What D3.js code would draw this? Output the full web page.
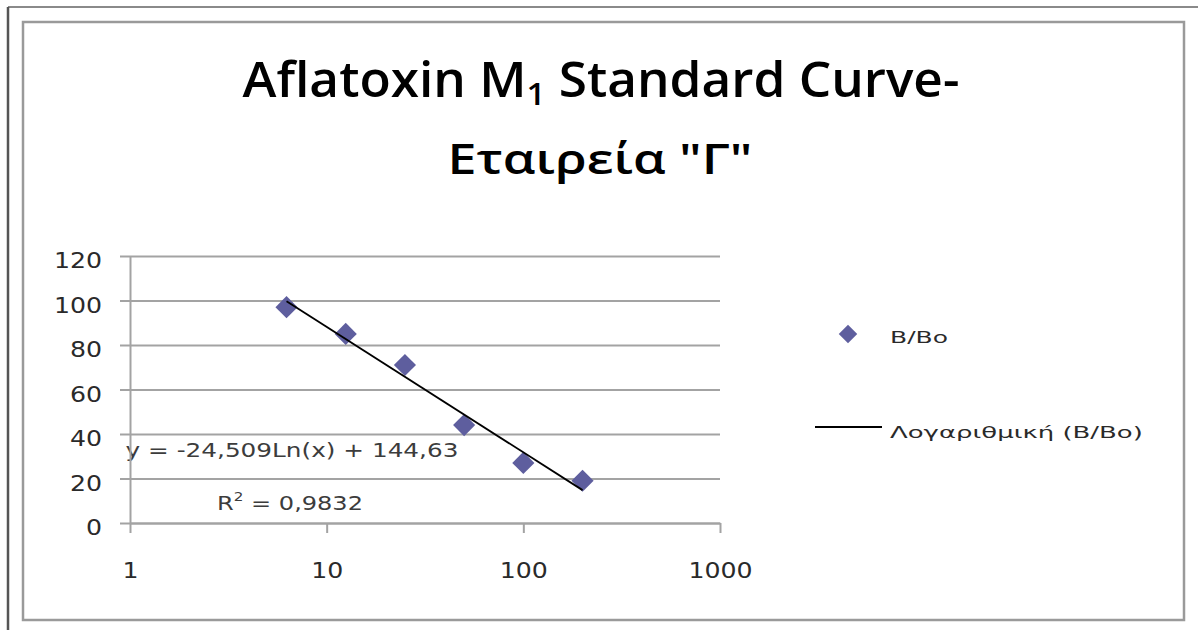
<!DOCTYPE html>
<html>
<head>
<meta charset="utf-8">
<script src="https://cdn.jsdelivr.net/npm/d3@7"></script>
<style>
  body { margin: 0; background: #fff; }
  svg { display: block; }
</style>
</head>
<body>
<div id="chart"></div>
<script>
// data
var concentration = [6.25, 12.5, 25, 50, 100, 200];
var bBo = [97, 85, 71, 44, 27, 19];
var xTicks = [1, 10, 100, 1000];
var yTicks = [0, 20, 40, 60, 80, 100, 120];
var trendSlope = -24.509,
    trendIntercept = 144.63;
var seriesName = "B/Bo";
var trendName = "Λογαριθμική (B/Bo)";
var equationLabel = "y = -24,509Ln(x) + 144,63";
var r2Label = "0,9832";

var W = 1198, H = 630;
var plot = {left: 130, right: 720, top: 256, bottom: 523};

var svg = d3.select("#chart")
  .append("svg")
    .attr("width", W)
    .attr("height", H);

// frames
svg.append("line").attr("x1", 8).attr("y1", 7).attr("x2", W).attr("y2", 7)
  .attr("stroke", "#8a8a8a").attr("stroke-width", 2);
svg.append("line").attr("x1", 8).attr("y1", 7).attr("x2", 8).attr("y2", H)
  .attr("stroke", "#555").attr("stroke-width", 2.5);
svg.append("rect")
  .attr("x", 23).attr("y", 22)
  .attr("width", 1161).attr("height", 598)
  .attr("fill", "#fff")
  .attr("stroke", "#9a9a9a")
  .attr("stroke-width", 2.5);

// stretch text horizontally to the width seen in the picture
function placeText(x, y, width, anchor, build) {
  var g = svg.append("g");
  var t = g.append("text").attr("text-anchor", anchor);
  build(t);
  var w = t.node().getBBox().width;
  g.attr("transform", "translate(" + x + "," + y + ") scale(" + (width / w) + ",1)");
  return t;
}

function stretch(sel, k) {
  sel.each(function() {
    var w = this.getComputedTextLength();
    d3.select(this).attr("textLength", w * k).attr("lengthAdjust", "spacingAndGlyphs");
  });
}

// title
var titleFont = "'Open Sans', 'Noto Sans', sans-serif";
placeText(601, 97, 717, "middle", function(t) {
  t.attr("font-family", titleFont)
    .attr("font-weight", 600)
    .attr("font-size", 48)
    .attr("fill", "#000");
  t.append("tspan").text("Aflatoxin M");
  t.append("tspan").attr("font-size", 31).attr("dy", 8).text("1");
  t.append("tspan").attr("dy", -8).text(" Standard Curve-");
});
placeText(600, 174, 305, "middle", function(t) {
  t.attr("font-family", titleFont)
    .attr("font-weight", 600)
    .attr("font-size", 42)
    .attr("fill", "#000")
    .text("Εταιρεία \"Γ\"");
});

// scales
var x = d3.scaleLog()
  .domain([xTicks[0], xTicks[xTicks.length - 1]])
  .range([plot.left, plot.right]);

var y = d3.scaleLinear()
  .domain([yTicks[0], yTicks[yTicks.length - 1]])
  .range([plot.bottom, plot.top]);

var gridColor = "#a3a3a3";

// gridlines
var grid = svg.append("g")
  .attr("transform", "translate(" + plot.left + ",0)")
  .call(d3.axisLeft(y).tickValues(yTicks).tickSize(-(plot.right - plot.left)).tickFormat(""));
grid.select(".domain").remove();
grid.selectAll("line").attr("stroke", gridColor).attr("stroke-width", 2);

// trendline equation
placeText(292, 457, 333, "middle", function(t) {
  t.attr("font-family", "'DejaVu Sans', Verdana, sans-serif")
    .attr("font-size", 19)
    .attr("fill", "#3c3c3c")
    .text(equationLabel);
});
placeText(290, 510, 146, "middle", function(t) {
  t.attr("font-family", "'DejaVu Sans', Verdana, sans-serif")
    .attr("font-size", 19)
    .attr("fill", "#3c3c3c");
  t.append("tspan").text("R");
  t.append("tspan").attr("font-size", 12).attr("dy", -9).text("2");
  t.append("tspan").attr("dy", 9).text(" = " + r2Label);
});

// axes
var yAxis = svg.append("g")
  .attr("transform", "translate(" + plot.left + ",0)")
  .call(d3.axisLeft(y).tickValues(yTicks).tickSizeInner(10).tickSizeOuter(0).tickPadding(18));

var xAxis = svg.append("g")
  .attr("transform", "translate(0," + plot.bottom + ")")
  .call(d3.axisBottom(x).tickValues(xTicks).tickSizeInner(10).tickSizeOuter(0)
    .tickPadding(30).tickFormat(d3.format("d")));

[yAxis, xAxis].forEach(function(a) {
  a.select(".domain").attr("stroke", gridColor).attr("stroke-width", 2);
  a.selectAll("line").attr("stroke", gridColor).attr("stroke-width", 2);
  a.selectAll("text")
    .attr("font-family", "'DejaVu Sans', Verdana, sans-serif")
    .attr("font-size", 21)
    .attr("fill", "#2a2a2a");
});
yAxis.selectAll("text").attr("dy", "0.55em");
stretch(yAxis.selectAll("text"), 1.2);
stretch(xAxis.selectAll("text"), 1.2);

// points
var markColor = "#5e5e9e";
var points = concentration.map(function(c, i) { return {x: c, y: bBo[i]}; });

svg.append("g")
  .selectAll("path")
  .data(points)
  .enter()
  .append("path")
    .attr("d", d3.symbol(d3.symbolSquare, 245))
    .attr("transform", function(d) {
      return "translate(" + x(d.x) + "," + y(d.y) + ") rotate(45)";
    })
    .attr("fill", markColor);

// logarithmic trendline
var xExt = d3.extent(concentration);
var trend = xExt.map(function(c) {
  return {x: c, y: trendSlope * Math.log(c) + trendIntercept};
});
var trendLine = d3.line()
  .x(function(d) { return x(d.x); })
  .y(function(d) { return y(d.y); });

svg.append("path")
  .datum(trend)
  .attr("d", trendLine)
  .attr("fill", "none")
  .attr("stroke", "#000")
  .attr("stroke-width", 1.8);

// legend
svg.append("path")
  .attr("d", d3.symbol(d3.symbolSquare, 170))
  .attr("transform", "translate(848,334) rotate(45)")
  .attr("fill", markColor);
placeText(890, 343, 58, "start", function(t) {
  t.attr("font-family", "'DejaVu Sans', Verdana, sans-serif")
    .attr("font-size", 16.5)
    .attr("fill", "#2a2a2a")
    .text(seriesName);
});
svg.append("line")
  .attr("x1", 815).attr("x2", 882)
  .attr("y1", 427).attr("y2", 427)
  .attr("stroke", "#000")
  .attr("stroke-width", 2);
placeText(890, 438, 253, "start", function(t) {
  t.attr("font-family", "'DejaVu Sans', Verdana, sans-serif")
    .attr("font-size", 16.5)
    .attr("fill", "#2a2a2a")
    .text(trendName);
});
</script>
</body>
</html>
